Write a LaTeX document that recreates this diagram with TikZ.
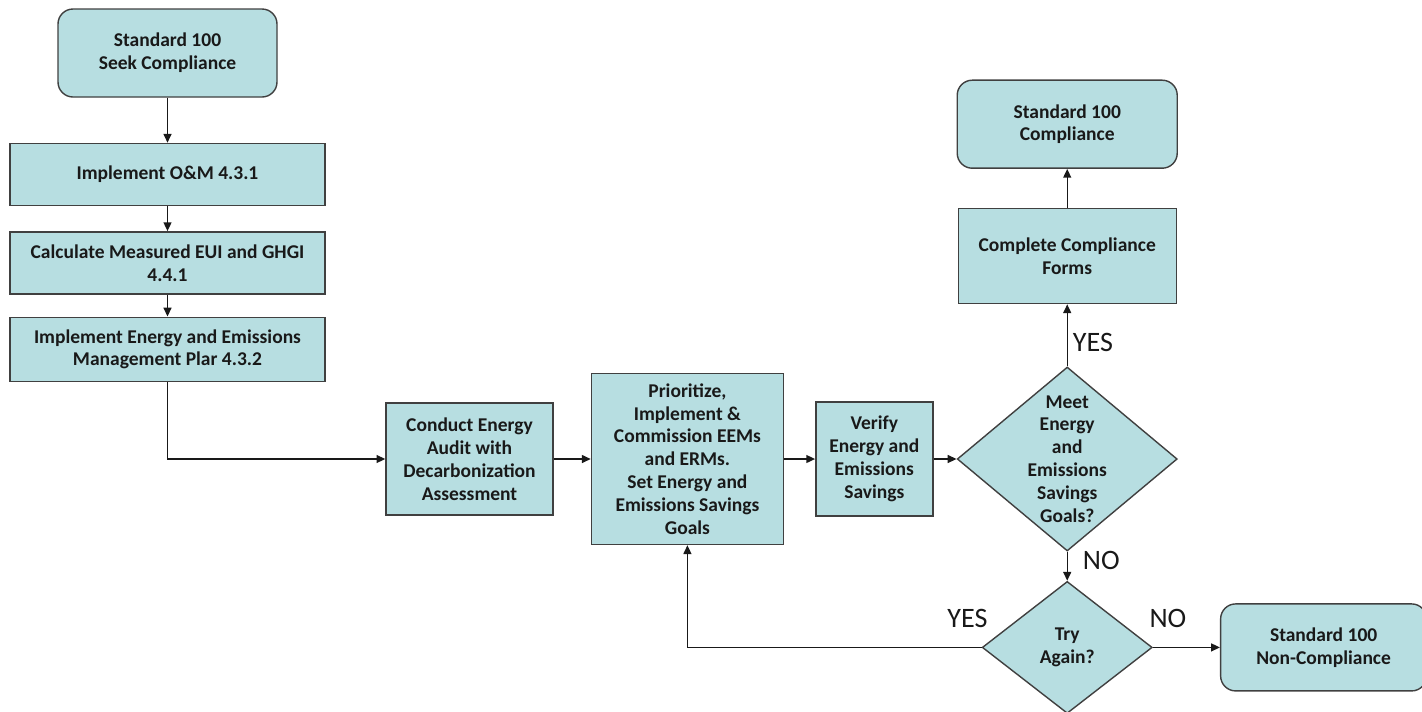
\documentclass[tikz,border=0pt]{standalone}
\usepackage{fontspec}
\setmainfont{Carlito}
\usetikzlibrary{positioning, arrows.meta, shapes.geometric}
\definecolor{boxfill}{RGB}{183,222,225}
\definecolor{boxline}{RGB}{64,64,64}
\definecolor{ink}{RGB}{25,25,25}

\begin{document}
\begin{tikzpicture}[
          proc/.style={rectangle, draw=boxline, line width=0.8pt, fill=boxfill, align=center, text=ink, inner sep=2pt, font=\fontsize{11.1}{13}\selectfont\bfseries},
          term/.style={proc, rounded corners=0.3cm},
          dec/.style={diamond, draw=boxline, line width=0.8pt, fill=boxfill, inner sep=0pt},
          dectext/.style={align=center, text=ink, inner sep=0pt, font=\fontsize{11.1}{13}\selectfont\bfseries},
          lbl/.style={inner sep=0pt, text=ink, font=\fontsize{16}{19}\selectfont},
          arrow/.style={-{Triangle[length=5pt, width=4.5pt]}, line width=0.8pt, draw=ink}
        ]
          \useasboundingbox (0,0) rectangle (28.44,-14.22);

          % Left column
          \node[term, minimum width=4.38cm, minimum height=1.76cm] (seek) at (3.35,-1.06) {Standard 100\\Seek Compliance};
          \node[proc, minimum width=6.3cm, minimum height=1.24cm, below=0.9cm of seek] (om) {Implement O\&M 4.3.1};
          \node[proc, minimum width=6.3cm, minimum height=1.24cm, below=0.5cm of om] (eui) {Calculate Measured EUI and GHGI\\4.4.1};
          \node[proc, minimum width=6.3cm, minimum height=1.28cm, below=0.44cm of eui] (plan) {Implement Energy and Emissions\\Management Plar 4.3.2};

          % Middle row
          \node[proc, minimum width=3.34cm, minimum height=2.24cm] (audit) at (9.39,-9.18) {Conduct Energy\\Audit with\\Decarbonization\\Assessment};
          \node[proc, minimum width=3.84cm, minimum height=3.42cm, right=0.74cm of audit] (prio) {Prioritize,\\Implement \&\\Commission EEMs\\and ERMs.\\Set Energy and\\Emissions Savings\\Goals};
          \node[proc, minimum width=2.34cm, minimum height=2.28cm, right=0.62cm of prio] (verify) {Verify\\Energy and\\Emissions\\Savings};

          % Decisions
          \node[dec, minimum width=4.4cm, minimum height=3.68cm, right=0.46cm of verify,
                label={[dectext, name=meettext]center:{Meet\\Energy\\and\\Emissions\\Savings\\Goals?}}] (meet) {};
          \node[dec, minimum width=3.4cm, minimum height=2.64cm, below=0.58cm of meet,
                label={[dectext, name=trytext]center:{Try\\Again?}}] (try) {};

          % Right column
          \node[proc, minimum width=4.36cm, minimum height=1.9cm, above=1.24cm of meet] (forms) {Complete Compliance\\Forms};
          \node[term, minimum width=4.4cm, minimum height=1.76cm, above=0.78cm of forms] (compliance) {Standard 100\\Compliance};
          \node[term, minimum width=4.12cm, minimum height=1.74cm, right=1.34cm of try] (noncomp) {Standard 100\\Non-Compliance};

          % Answer labels
          \node[lbl, above=0.38cm of try.west, xshift=-0.28cm] (yesback) {YES};
          \node[lbl, above=0.38cm of try.east, xshift=0.3cm] (nostop) {NO};

          % Arrows
          \draw[arrow] (seek) -- (om);
          \draw[arrow] (om) -- (eui);
          \draw[arrow] (eui) -- (plan);
          \draw[arrow] (plan.south) |- (audit.west);
          \draw[arrow] (audit) -- (prio);
          \draw[arrow] (prio) -- (verify);
          \draw[arrow] (verify) -- (meet);
          \draw[arrow] (meet.north) -- node[lbl, anchor=west, xshift=0.1cm, pos=0.39] (yesup) {YES} (forms.south);
          \draw[arrow] (forms) -- (compliance);
          \draw[arrow] (meet.south) -- node[lbl, anchor=west, xshift=0.3cm, pos=0.31] (nodown) {NO} (try.north);
          \draw[arrow] (try) -- (noncomp);
          \draw[arrow] (try.west) -| (prio.south);
      \end{tikzpicture}
\end{document}
